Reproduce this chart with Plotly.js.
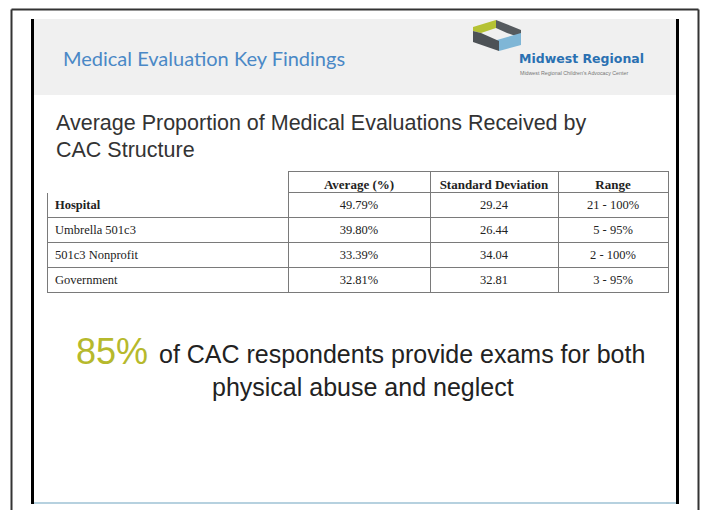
<!DOCTYPE html>
<html>
<head>
<meta charset="utf-8">
<script src="https://cdn.plot.ly/plotly-3.0.1.min.js"></script>
<style>html,body{margin:0;padding:0;background:#fff;}#chart{width:703px;height:510px;}</style>
</head>
<body>
<div id="chart"></div>
<script>
// ---- data ----
const structures = ['Hospital', 'Umbrella 501c3', '501c3 Nonprofit', 'Government'];
const averagePct = [49.79, 39.80, 33.39, 32.81];
const stdDeviation = [29.24, 26.44, 34.04, 32.81];
const rangeMin = [21, 5, 2, 3];
const rangeMax = [100, 95, 100, 95];
const columnHeaders = ['', 'Average (%)', 'Standard Deviation', 'Range'];
const headlinePct = '85%';

// ---- layout helpers (pixel -> paper) ----
const W = 703, H = 510;
const px = x => x / W;
const py = y => 1 - y / H;

const avgCells = averagePct.map(v => v.toFixed(2) + '%');
const sdCells = stdDeviation.map(v => v.toFixed(2));
const rangeCells = rangeMin.map((m, i) => m + ' - ' + rangeMax[i] + '%');

const lineGray = '#7a7a7a';
const table = {
  type: 'table',
  domain: {x: [px(47), px(668)], y: [py(320), py(171)]},
  columnwidth: [241, 142, 128, 110],
  header: {
    values: columnHeaders,
    align: ['left', 'center', 'center', 'center'],
    height: 21,
    fill: {color: 'white'},
    line: {color: ['white', lineGray, lineGray, lineGray], width: 1},
    font: {family: 'Liberation Serif', size: 13, color: '#222', weight: 700}
  },
  cells: {
    values: [structures, avgCells, sdCells, rangeCells],
    align: ['left', 'center', 'center', 'center'],
    height: 25,
    fill: {color: 'white'},
    line: {color: lineGray, width: 1},
    font: {family: 'Liberation Serif', size: 12.5, color: '#222',
           weight: [[700, 400, 400, 400], 400, 400, 400]}
  }
};

function poly(pts) {
  return 'M' + pts.map(p => px(p[0]) + ',' + py(p[1])).join(' L') + ' Z';
}

const shapes = [
  // header band
  {type: 'rect', xref: 'paper', yref: 'paper', x0: px(34), x1: px(677), y0: py(95), y1: py(19),
   fillcolor: '#f0f0f0', line: {width: 0}, layer: 'below'},
  // outer thin frame
  {type: 'line', xref: 'paper', yref: 'paper', x0: px(11.5), x1: px(11.5), y0: py(9.5), y1: py(515), line: {color: '#333', width: 2}},
  {type: 'line', xref: 'paper', yref: 'paper', x0: px(11.5), x1: px(698.5), y0: py(9.5), y1: py(9.5), line: {color: '#333', width: 2}},
  {type: 'line', xref: 'paper', yref: 'paper', x0: px(698.5), x1: px(698.5), y0: py(9.5), y1: py(515), line: {color: '#333', width: 2}},
  // inner thick bars
  {type: 'line', xref: 'paper', yref: 'paper', x0: px(32.5), x1: px(32.5), y0: py(19), y1: py(504), line: {color: '#000', width: 3}},
  {type: 'line', xref: 'paper', yref: 'paper', x0: px(677.5), x1: px(677.5), y0: py(19), y1: py(504), line: {color: '#000', width: 3}},
  // bottom accent line
  {type: 'line', xref: 'paper', yref: 'paper', x0: px(34), x1: px(676), y0: py(503), y1: py(503), line: {color: '#6fa3c0', width: 1.2}},
  // logo icon
  {type: 'path', xref: 'paper', yref: 'paper', path: poly([[473,27],[496,20],[496,28],[481,33],[473,31]]), fillcolor: '#b5c234', line: {width: 0}},
  {type: 'path', xref: 'paper', yref: 'paper', path: poly([[496,20],[521,30],[521,38],[507,33],[496,28]]), fillcolor: '#555a5e', line: {width: 0}},
  {type: 'path', xref: 'paper', yref: 'paper', path: poly([[497,40],[521,33],[521,45],[499,51]]), fillcolor: '#7fb6d6', line: {width: 0}},
  {type: 'path', xref: 'paper', yref: 'paper', path: poly([[473,31],[481,33],[499,41],[499,51],[473,42]]), fillcolor: '#4d5256', line: {width: 0}}
];

const annotations = [
  {text: 'Medical Evaluation Key Findings', x: px(61), y: py(58), xref: 'paper', yref: 'paper', xanchor: 'left', yanchor: 'middle',
   showarrow: false, font: {family: 'Lato', size: 20, color: '#4a88c6'}},
  {text: 'Midwest Regional', x: px(517), y: py(58), xref: 'paper', yref: 'paper', xanchor: 'left', yanchor: 'middle',
   showarrow: false, font: {family: 'DejaVu Sans', size: 12.5, color: '#2a70b2', weight: 700}},
  {text: 'Midwest Regional Children\'s Advocacy Center', x: px(518), y: py(73), xref: 'paper', yref: 'paper', xanchor: 'left', yanchor: 'middle',
   showarrow: false, font: {family: 'Liberation Sans', size: 5.3, color: '#777'}},
  {text: 'Average Proportion of Medical Evaluations Received by', x: px(54), y: py(123), xref: 'paper', yref: 'paper', xanchor: 'left', yanchor: 'middle',
   showarrow: false, font: {family: 'Liberation Sans', size: 21.5, color: '#333'}},
  {text: 'CAC Structure', x: px(54), y: py(150), xref: 'paper', yref: 'paper', xanchor: 'left', yanchor: 'middle',
   showarrow: false, font: {family: 'Liberation Sans', size: 21.5, color: '#333'}},
  {text: headlinePct, x: px(74), y: py(351), xref: 'paper', yref: 'paper', xanchor: 'left', yanchor: 'middle',
   showarrow: false, font: {family: 'Liberation Sans', size: 36, color: '#b6b92c'}},
  {text: 'of CAC respondents provide exams for both', x: px(157), y: py(354), xref: 'paper', yref: 'paper', xanchor: 'left', yanchor: 'middle',
   showarrow: false, font: {family: 'Liberation Sans', size: 25, color: '#222'}},
  {text: 'physical abuse and neglect', x: px(362.5), y: py(387), xref: 'paper', yref: 'paper', xanchor: 'center', yanchor: 'middle',
   showarrow: false, font: {family: 'Liberation Sans', size: 25, color: '#222'}}
];

const layout = {
  width: W, height: H,
  margin: {l: 0, r: 0, t: 0, b: 0, pad: 0},
  paper_bgcolor: 'white', plot_bgcolor: 'white',
  showlegend: false,
  shapes: shapes,
  annotations: annotations
};

Plotly.newPlot('chart', [table], layout, {displayModeBar: false, staticPlot: true});
</script>
</body>
</html>
